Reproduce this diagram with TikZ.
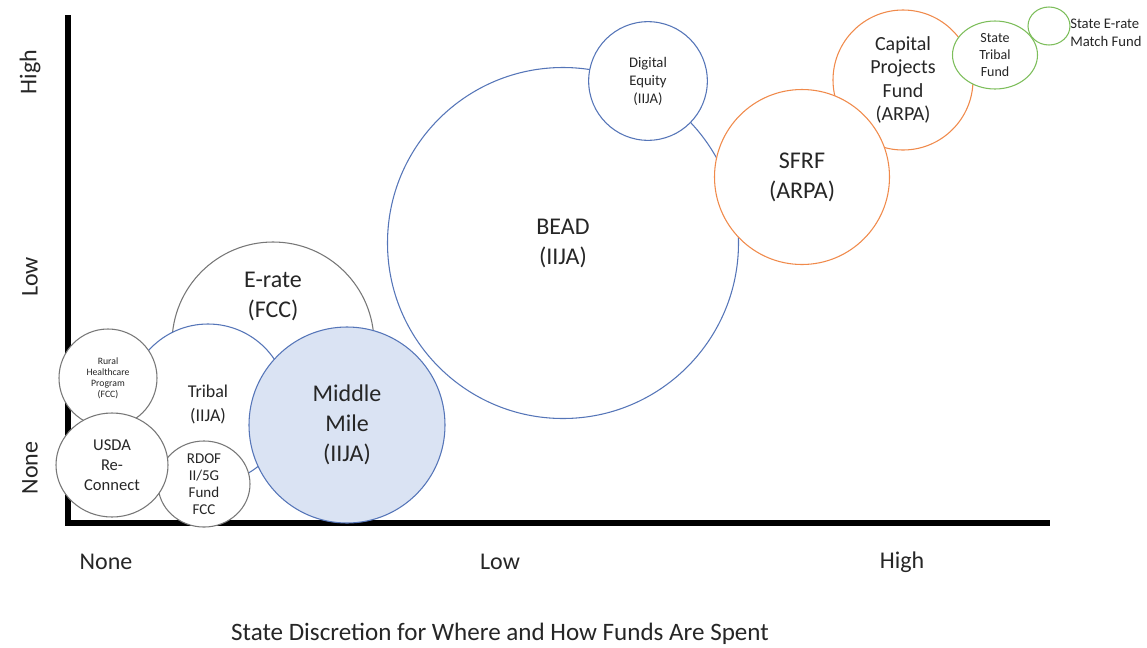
\documentclass[tikz,border=0pt]{standalone}
\usepackage{fontspec}
\setmainfont{Carlito}
\usepackage{tikz}
\usetikzlibrary{positioning}
\usetikzlibrary{shapes.geometric}
\definecolor{iijablue}{HTML}{5575B8}
\definecolor{iijafill}{HTML}{DAE3F3}
\definecolor{arpaorange}{HTML}{F08A4B}
\definecolor{stategreen}{HTML}{7DBE5B}
\definecolor{fccgray}{HTML}{777777}
\definecolor{labeltext}{HTML}{262626}

\begin{document}
\begin{tikzpicture}[
      x=0.75pt,y=-0.75pt,
      fund/.style={circle,draw=fccgray,fill=white,inner sep=0pt,align=center,text=labeltext,line width=0.8pt},
      fundoval/.style={fund,ellipse},
      iija/.style={fund,draw=iijablue},
      arpa/.style={fund,draw=arpaorange},
      statefund/.style={fund,draw=stategreen},
      axisline/.style={draw=black,line width=3.8pt},
      axislbl/.style={text=labeltext,align=center,font=\fontsize{18}{22.5}\selectfont}
    ]
    \useasboundingbox (0,0) rectangle (1147,647);

    % axes
    \coordinate (origin) at (68,523);
    \coordinate (ytop) at (68,15);
    \coordinate (xend) at (1050,523);
    \draw[axisline] (ytop) -- (origin) -- (xend);

    % left cluster
    \node[fund,minimum size=151.5pt] (erate) at (273,343) {};
    \node[axislbl] (eratetxt) at (273,296) {E-rate\\(FCC)};
    \node[iija,minimum size=120pt,font=\fontsize{13.5}{18}\selectfont] (tribal) at (208,404) {Tribal\\(IIJA)};
    \node[fund,minimum size=73.5pt,font=\fontsize{7.3}{8.25}\selectfont] (rural) at (108,378) {Rural\\Healthcare\\Program\\(FCC)};
    \node[fundoval,minimum width=69pt,minimum height=51pt,font=\fontsize{11.25}{12.75}\selectfont] (rdof) at (204,484) {RDOF\\II/5G\\Fund\\FCC};
    \node[fundoval,minimum width=84pt,minimum height=78pt,font=\fontsize{12.4}{15}\selectfont] (usda) at (112,465) {USDA\\Re-\\Connect};
    \node[iija,fill=iijafill,minimum size=147pt,font=\fontsize{18}{22.5}\selectfont] (midmile) at (347,425) {Middle\\Mile\\(IIJA)};

    % right cluster
    \node[iija,minimum size=263.25pt,font=\fontsize{18}{22.5}\selectfont] (bead) at (563,243) {BEAD\\(IIJA)};
    \node[iija,minimum size=89pt,font=\fontsize{11}{13.5}\selectfont] (digeq) at (648,81) {Digital\\Equity\\(IIJA)};
    \node[arpa,minimum size=105pt,font=\fontsize{15}{17.6}\selectfont] (cpf) at (903,80) {Capital\\Projects\\Fund\\(ARPA)};
    \node[arpa,minimum size=131.25pt,font=\fontsize{18}{22.5}\selectfont] (sfrf) at (802,177) {SFRF\\(ARPA)};
    \node[statefund,ellipse,minimum width=63.75pt,minimum height=51pt,font=\fontsize{10.5}{13}\selectfont] (sttribal) at (995,55) {State\\Tribal\\Fund};
    \node[statefund,ellipse,minimum width=31.5pt,minimum height=28.5pt] (sterate) at (1049,26) {};
    \node[anchor=west,align=left,inner sep=0pt,text=labeltext,font=\fontsize{11}{13.5}\selectfont] (steratetxt) at (1070,33) {State E-rate\\Match Fund};

    % axis labels
    \node[axislbl,rotate=90] (yhigh) at (30,72) {High};
    \node[axislbl,rotate=90] (ylow) at (30,277) {Low};
    \node[axislbl,rotate=90] (ynone) at (30,468) {None};
    \node[axislbl] (xnone) at (106,562) {None};
    \node[axislbl] (xlow) at (500,562) {Low};
    \node[axislbl] (xhigh) at (902,562) {High};
    \node[axislbl,font=\fontsize{18.8}{22.5}\selectfont] (xtitle) at (500,634) {State Discretion for Where and How Funds Are Spent};
  \end{tikzpicture}
\end{document}
